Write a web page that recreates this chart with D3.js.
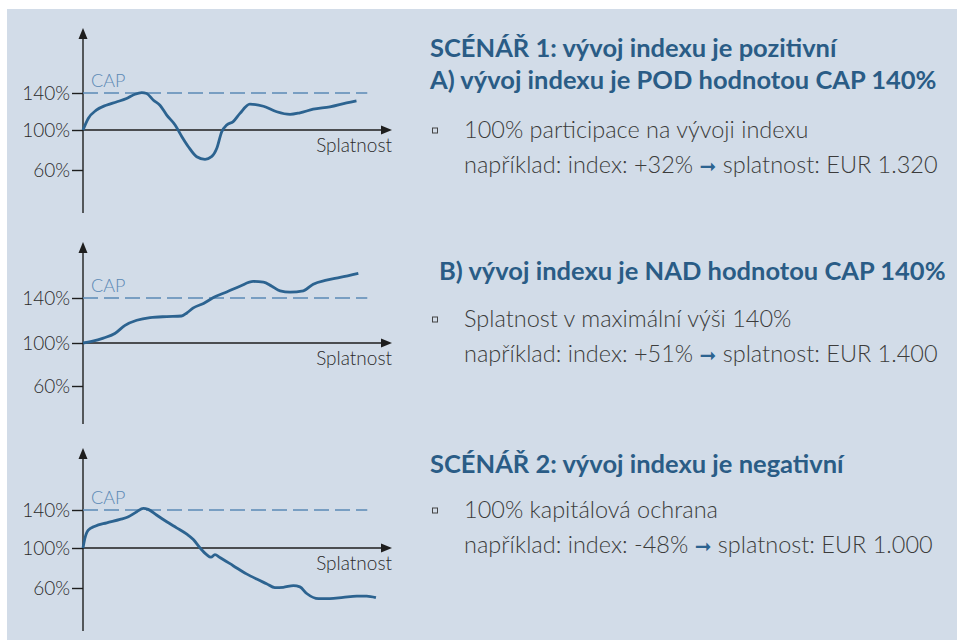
<!DOCTYPE html>
<html>
<head>
<meta charset="utf-8">
<script src="https://cdn.jsdelivr.net/npm/d3@7/dist/d3.min.js"></script>
<style>
  body { margin: 0; background: #ffffff; }
  svg { display: block; }
</style>
</head>
<body>
<div id="chart"></div>
<script>
// values: time in % of term, index level in %
const timeA = [0, 1.7, 4.3, 7.5, 10.8, 14.1, 16.8, 19.0, 20.6, 22.8, 24.9, 27.1, 29.8, 32.0, 34.1, 36.8, 39.5, 41.6, 43.3, 44.9, 46.5, 48.6, 50.8, 54.0, 58.4, 62.7, 67.0, 70.2, 74.5, 79.9, 85.3, 88.5]
const indexA = [100, 112.5, 121.4, 126.8, 130.3, 134, 138.6, 140.4, 139.4, 132.2, 126.8, 116.1, 105.4, 93.3, 83.3, 73.3, 70.7, 73.3, 81.7, 98.3, 105.4, 109, 118, 128, 125.7, 119.7, 116.9, 118.6, 122.5, 125, 129.3, 131.5]

const timeB = [0, 2.8, 6.6, 10.3, 13.6, 17.4, 21.7, 27.1, 31.9, 33.6, 35.7, 39.0, 42.2, 46.5, 50.8, 55.1, 58.4, 61.1, 63.8, 67.0, 71.3, 74.5, 78.8, 83.2, 89.1]
const indexB = [100, 101.5, 104.4, 108.4, 115.7, 120.2, 122.6, 123.5, 124, 126.7, 131.2, 135.1, 140.4, 145.4, 150.5, 154.7, 154.1, 150.5, 146.4, 145.2, 146.4, 152.3, 155.9, 158.3, 161.9]

const timeC = [0, 0.6, 1.7, 3.9, 7.7, 12.0, 14.7, 17.4, 19.5, 21.1, 23.8, 27.1, 30.3, 33.6, 35.7, 37.9, 40.0, 41.4, 42.7, 44.3, 48.6, 52.9, 56.2, 59.4, 62.1, 64.8, 68.1, 70.2, 72.4, 76.2, 79.9, 84.2, 88.6, 91.8, 94.8]
const indexC = [100, 110, 118.8, 123, 126.5, 130.1, 132.9, 138.2, 141.8, 140.7, 134.7, 127.6, 121.2, 114.5, 108.9, 100, 93.4, 90.8, 93.4, 90.5, 82.3, 74.1, 68.9, 64.3, 60.4, 60.7, 62.4, 61.1, 54.5, 49.3, 49.3, 50.6, 51.9, 51.9, 50.3]

const yTicks = [60, 100, 140]
const capLevel = 140
const capEnd = 92   // dashed cap line ends near 92% of the term
const capLabel = "CAP"
const xTitle = "Splatnost"

const headings = [
  ["SCÉNÁŘ 1: vývoj indexu je pozitivní", "A) vývoj indexu je POD hodnotou CAP 140%"],
  ["B) vývoj indexu je NAD hodnotou CAP 140%"],
  ["SCÉNÁŘ 2: vývoj indexu je negativní"]
]
const bullets = ["100% participace na vývoji indexu", "Splatnost v maximální výši 140%", "100% kapitálová ochrana"]
const exIndex = ["+32%", "+51%", "-48%"]
const exPayout = ["EUR 1.320", "EUR 1.400", "EUR 1.000"]

const width = 957, height = 641
const blue = "#2c6390", capBlue = "#5b89b5", ink = "#1e1e1e", grey = "#3c3c3c"

const svg = d3.select("#chart").append("svg")
  .attr("width", width).attr("height", height)
  .style("font-family", "Lato, 'Open Sans', sans-serif")

svg.append("rect")
  .attr("x", 7).attr("y", 9).attr("width", width - 7).attr("height", 631)
  .attr("fill", "#d2dce8")

// each small chart: where its axes sit on the page
const panels = [
  {t: timeA, v: indexA, top: 28, bottom: 213, y: [170, 130, 93]},
  {t: timeB, v: indexB, top: 242, bottom: 424, y: [386, 343, 298]},
  {t: timeC, v: indexC, top: 448, bottom: 631, y: [588, 548, 510]}
]

const x0 = 83, xTip = 392
const xScale = d3.scaleLinear().domain([0, 100]).range([x0, xTip])

panels.forEach(function(p) {
  const yScale = d3.scaleLinear().domain(yTicks).range(p.y)
  const g = svg.append("g")
  const yZero = yScale(100)

  const yAxis = g.append("g")
    .attr("transform", `translate(${x0},0)`)
    .call(d3.axisLeft(yScale).tickValues(yTicks).tickSize(11).tickPadding(2).tickFormat(d => d + "%"))
  yAxis.select(".domain").remove()
  yAxis.selectAll(".tick line").attr("stroke", ink).attr("stroke-width", 1.4)
  yAxis.selectAll(".tick text")
    .attr("fill", "#2a2a2a")
    .style("font-size", "19px")
    .style("font-family", "Lato, sans-serif")
    .style("font-weight", 300)

  // vertical axis with arrow
  g.append("line").attr("x1", x0).attr("x2", x0).attr("y1", p.bottom).attr("y2", p.top + 8)
    .attr("stroke", ink).attr("stroke-width", 1.4)
  g.append("path")
    .attr("d", `M${x0},${p.top} L${x0 - 4.5},${p.top + 11} L${x0 + 4.5},${p.top + 11} Z`)
    .attr("fill", ink)

  // horizontal axis (100%) with arrow
  g.append("line").attr("x1", x0).attr("x2", xTip - 8).attr("y1", yZero).attr("y2", yZero)
    .attr("stroke", ink).attr("stroke-width", 1.4)
  g.append("path")
    .attr("d", `M${xTip},${yZero} L${xTip - 11},${yZero - 4.5} L${xTip - 11},${yZero + 4.5} Z`)
    .attr("fill", ink)
  g.append("text")
    .attr("x", xTip).attr("y", yZero + 22)
    .attr("text-anchor", "end")
    .attr("fill", "#2a2a2a")
    .style("font-size", "19px").style("font-weight", 300)
    .text(xTitle)

  // cap line
  g.append("line")
    .attr("x1", xScale(0)).attr("x2", xScale(capEnd))
    .attr("y1", yScale(capLevel)).attr("y2", yScale(capLevel))
    .attr("stroke", capBlue).attr("stroke-width", 1.5)
    .attr("stroke-dasharray", "15,6")
  g.append("text")
    .attr("x", 91).attr("y", yScale(capLevel) - 6)
    .attr("fill", capBlue)
    .style("font-size", "18px").style("font-weight", 300)
    .text(capLabel)

  const line = d3.line()
    .x((d, i) => xScale(p.t[i]))
    .y(d => yScale(d))
    .curve(d3.curveMonotoneX)

  g.append("path")
    .attr("d", line(p.v))
    .attr("fill", "none")
    .attr("stroke", blue)
    .attr("stroke-width", 2.8)
    .attr("stroke-linejoin", "round")
})

// text blocks on the right
const blocks = [
  {hx: 430, hy: [57, 89], by: 138, ey: 173},
  {hx: 439, hy: [280], by: 327, ey: 362},
  {hx: 430, hy: [473], by: 518, ey: 553}
]

blocks.forEach(function(b, i) {
  headings[i].forEach(function(h, j) {
    svg.append("text")
      .attr("x", b.hx).attr("y", b.hy[j])
      .attr("fill", "#2a5c86")
      .style("font-size", "25.5px").style("font-weight", 700)
      .text(h)
  })
  svg.append("rect")
    .attr("x", 432.5).attr("y", b.by - 10).attr("width", 5).attr("height", 5)
    .attr("fill", "none").attr("stroke", "#444").attr("stroke-width", 1)
  svg.append("text")
    .attr("x", 464).attr("y", b.by)
    .attr("fill", grey)
    .style("font-size", "23.5px").style("font-weight", 300)
    .text(bullets[i])
  const ex = svg.append("text")
    .attr("x", 464).attr("y", b.ey)
    .attr("fill", grey)
    .style("font-size", "23.5px").style("font-weight", 300)
  ex.append("tspan").text("například: index: " + exIndex[i] + " ")
  ex.append("tspan").attr("fill", blue).style("font-family", "'DejaVu Sans'").style("font-size", "20px").style("font-weight", 700).text("➞")
  ex.append("tspan").text(" splatnost: " + exPayout[i])
})
</script>
</body>
</html>
